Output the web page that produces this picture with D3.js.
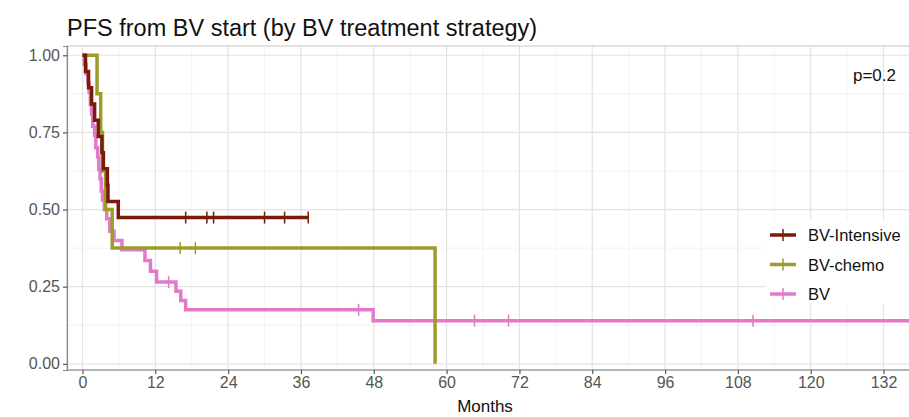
<!DOCTYPE html>
<html>
<head>
<meta charset="utf-8">
<script src="https://cdn.jsdelivr.net/npm/d3@7"></script>
<style>
  body { margin: 0; background: #fff; }
  text { font-family: "Liberation Sans", Arial, sans-serif; }
</style>
</head>
<body>
<div id="chart"></div>
<script>
// Kaplan-Meier step data
const groups = ["BV-Intensive", "BV-chemo", "BV"];
const colors = ["#7a1a0c", "#9c9c2a", "#e27ac9"];

const intensiveTimes = [0.5, 1.0, 1.5, 2.0, 2.6, 3.2, 3.45, 4.1, 4.2, 5.9];
const intensiveSurv = [0.947, 0.895, 0.842, 0.789, 0.737, 0.684, 0.632, 0.579, 0.526, 0.474];
const intensiveCensor = [17.0, 20.5, 21.6, 30.0, 33.3, 37.2];

const chemoTimes = [2.4, 3.0, 3.3, 3.8, 4.9, 58.1];
const chemoSurv = [0.875, 0.75, 0.625, 0.5, 0.375, 0];
const chemoCensor = [16.1, 18.6];

const bvTimes = [0.3, 0.6, 0.9, 1.1, 1.3, 1.5, 1.7, 2.0, 2.2, 2.5, 2.7, 2.9, 3.1, 3.3, 3.6, 4.0, 4.5, 5.2, 6.5, 10.3, 11.2, 12.2, 15.4, 16.2, 17.0, 47.9];
const bvSurv = [0.97, 0.94, 0.91, 0.88, 0.84, 0.81, 0.77, 0.74, 0.70, 0.67, 0.63, 0.60, 0.56, 0.53, 0.50, 0.47, 0.43, 0.40, 0.37, 0.335, 0.30, 0.265, 0.235, 0.205, 0.175, 0.14];
const bvCensor = [14.2, 45.5, 64.6, 70.2, 110.5, 136.5];

const xTicks = [0, 12, 24, 36, 48, 60, 72, 84, 96, 108, 120, 132];
const yTicks = [0, 0.25, 0.5, 0.75, 1];
const pValue = "p=0.2";

const series = [
    { name: groups[0], times: intensiveTimes, surv: intensiveSurv, censor: intensiveCensor },
    { name: groups[1], times: chemoTimes, surv: chemoSurv, censor: chemoCensor },
    { name: groups[2], times: bvTimes, surv: bvSurv, censor: bvCensor }
];

const width = 909;
const height = 417;
const panel = { left: 67, top: 46, right: 940, bottom: 370 };

const svg = d3.select("#chart")
    .append("svg")
    .attr("width", width)
    .attr("height", height);

const x = d3.scaleLinear().domain([-2.55, 141.3]).range([panel.left, panel.right]);
const y = d3.scaleLinear().domain([-0.02, 1.03]).range([panel.bottom, panel.top]);

// title
svg.append("text")
    .attr("x", 67)
    .attr("y", 36)
    .style("font-size", "23.5px")
    .attr("fill", "#111")
    .text("PFS from BV start (by BV treatment strategy)");

svg.append("defs").append("clipPath")
    .attr("id", "clip")
    .append("rect")
    .attr("x", panel.left)
    .attr("y", panel.top)
    .attr("width", panel.right - panel.left)
    .attr("height", panel.bottom - panel.top);

// grid
const grid = svg.append("g");
const xMinor = xTicks.map(d => d + 6).concat([-6]).filter(d => x(d) > panel.left);
const yMinor = [0.125, 0.375, 0.625, 0.875];

grid.selectAll(".xminor").data(xMinor).enter().append("line")
    .attr("x1", d => x(d)).attr("x2", d => x(d))
    .attr("y1", panel.top).attr("y2", panel.bottom)
    .attr("stroke", "#f0f0f0").attr("stroke-width", 0.8);
grid.selectAll(".yminor").data(yMinor).enter().append("line")
    .attr("x1", panel.left).attr("x2", panel.right)
    .attr("y1", d => y(d)).attr("y2", d => y(d))
    .attr("stroke", "#f0f0f0").attr("stroke-width", 0.8);
grid.selectAll(".xmajor").data(xTicks).enter().append("line")
    .attr("x1", d => x(d)).attr("x2", d => x(d))
    .attr("y1", panel.top).attr("y2", panel.bottom)
    .attr("stroke", "#e3e3e3").attr("stroke-width", 1.2);
grid.selectAll(".ymajor").data(yTicks).enter().append("line")
    .attr("x1", panel.left).attr("x2", panel.right)
    .attr("y1", d => y(d)).attr("y2", d => y(d))
    .attr("stroke", "#e3e3e3").attr("stroke-width", 1.2);

// panel border
svg.append("rect")
    .attr("x", panel.left).attr("y", panel.top)
    .attr("width", panel.right - panel.left)
    .attr("height", panel.bottom - panel.top)
    .attr("fill", "none")
    .attr("stroke", "#c8c8c8");

// axes
const xAxis = svg.append("g")
    .attr("transform", `translate(0,${panel.bottom})`)
    .call(d3.axisBottom(x).tickValues(xTicks).tickSize(4).tickPadding(3).tickFormat(d3.format("d")));
const yAxis = svg.append("g")
    .attr("transform", `translate(${panel.left},0)`)
    .call(d3.axisLeft(y).tickValues(yTicks).tickSize(4).tickPadding(3).tickFormat(d3.format(".2f")));

[xAxis, yAxis].forEach(a => {
    a.select(".domain").attr("stroke", "#888").attr("stroke-width", 1.2);
    a.selectAll(".tick line").attr("stroke", "#555").attr("stroke-width", 1.2);
    a.selectAll(".tick text").attr("fill", "#555").style("font-size", "16px");
});
xAxis.select(".domain").attr("d", `M${panel.left},0H${width + 20}`);

svg.append("text")
    .attr("x", 485)
    .attr("y", 412)
    .attr("text-anchor", "middle")
    .style("font-size", "17px")
    .attr("fill", "#111")
    .text("Months");

// curves
const plot = svg.append("g").attr("clip-path", "url(#clip)");
const line = d3.line()
    .x(d => x(d[0]))
    .y(d => y(d[1]))
    .curve(d3.curveStepAfter);

function survAt(s, t) {
    let v = 1;
    s.times.forEach((tt, i) => { if (tt <= t) v = s.surv[i]; });
    return v;
}

// draw in reverse so BV-Intensive sits on top
series.slice().reverse().forEach(s => {
    const i = groups.indexOf(s.name);
    const end = Math.max(d3.max(s.times), d3.max(s.censor));
    const pts = [[0, 1]].concat(s.times.map((t, j) => [t, s.surv[j]]));
    pts.push([end, survAt(s, end)]);

    plot.append("path")
        .datum(pts)
        .attr("d", line)
        .attr("fill", "none")
        .attr("stroke", colors[i])
        .attr("stroke-width", 3.5);

    plot.selectAll(null)
        .data(s.censor)
        .enter().append("line")
        .attr("x1", d => x(d)).attr("x2", d => x(d))
        .attr("y1", d => y(survAt(s, d)) - 6)
        .attr("y2", d => y(survAt(s, d)) + 6)
        .attr("stroke", colors[i])
        .attr("stroke-width", 1.5);
});

// p value
svg.append("text")
    .attr("x", 896)
    .attr("y", 81)
    .attr("text-anchor", "end")
    .style("font-size", "17px")
    .attr("fill", "#111")
    .text(pValue);

// legend
const legend = svg.append("g").attr("transform", "translate(765, 220)");
legend.append("rect")
    .attr("x", 0).attr("y", 0)
    .attr("width", 160).attr("height", 84)
    .attr("fill", "#fff");

const items = legend.selectAll(".item")
    .data(groups)
    .enter().append("g")
    .attr("transform", (d, i) => `translate(0, ${15 + i * 29.5})`);

items.append("line")
    .attr("x1", 5).attr("x2", 31)
    .attr("y1", 0).attr("y2", 0)
    .attr("stroke", (d, i) => colors[i])
    .attr("stroke-width", 3.5);
items.append("line")
    .attr("x1", 18).attr("x2", 18)
    .attr("y1", -6).attr("y2", 6)
    .attr("stroke", (d, i) => colors[i])
    .attr("stroke-width", 1.5);
items.append("text")
    .attr("x", 43)
    .attr("y", 6)
    .style("font-size", "16.5px")
    .attr("fill", "#111")
    .text(d => d);
</script>
</body>
</html>
